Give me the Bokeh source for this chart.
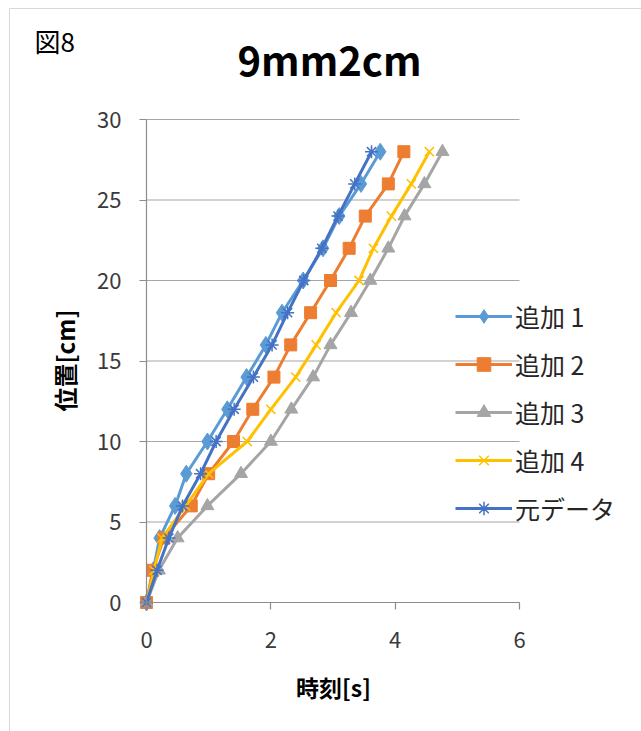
import math
from bokeh.plotting import figure
from bokeh.models import Range1d, FixedTicker, Label, Span, ColumnDataSource
from bokeh.embed import file_html
from bokeh.resources import INLINE

# ---- data ----
position = [0, 2, 4, 6, 8, 10, 12, 14, 16, 18, 20, 22, 24, 26, 28]
t_add1 = [0, 0.11, 0.21, 0.46, 0.64, 0.98, 1.30, 1.61, 1.92, 2.18, 2.52, 2.84, 3.10, 3.45, 3.76]
t_add2 = [0, 0.10, 0.28, 0.72, 1.00, 1.40, 1.71, 2.05, 2.32, 2.64, 2.96, 3.26, 3.52, 3.89, 4.14]
t_add3 = [0, 0.20, 0.50, 0.98, 1.52, 2.00, 2.33, 2.68, 2.96, 3.29, 3.60, 3.89, 4.15, 4.47, 4.76]
t_add4 = [0, 0.12, 0.25, 0.63, 1.00, 1.62, 2.00, 2.40, 2.73, 3.05, 3.42, 3.65, 3.94, 4.26, 4.55]
t_orig = [0, 0.17, 0.36, 0.58, 0.87, 1.12, 1.41, 1.72, 2.02, 2.27, 2.53, 2.82, 3.08, 3.35, 3.62]
series_names = ["追加 1", "追加 2", "追加 3", "追加 4", "元データ"]
x_ticks = [0, 2, 4, 6]
y_ticks = [0, 5, 10, 15, 20, 25, 30]

X_MIN, X_MAX = 0, 6
Y_MIN, Y_MAX = 0, 30

# ---- layout (pixels) ----
W, H = 641, 731
LEFT, TOP = 9, 8
PL, PR, PT, PB = 146, 519, 119, 602
sx = (PR - PL) / (X_MAX - X_MIN)
sy = (PB - PT) / (Y_MAX - Y_MIN)
x_start = X_MIN - (PL - LEFT) / sx
x_end = X_MAX + (W - PR) / sx
y_end = Y_MAX + (PT - TOP) / sy
y_start = Y_MIN - (H - PB) / sy

def dx(px):
    return X_MIN + (px - PL) / sx

def dy(py):
    return Y_MIN + (PB - py) / sy

FONT = "Noto Sans CJK JP"
GRID = "#a6a6a6"
AXIS = "#8c8c8c"
TXT = "#3a3a3a"

p = figure(width=W, height=H,
           x_range=Range1d(x_start, x_end), y_range=Range1d(y_start, y_end),
           min_border_left=LEFT, min_border_top=TOP, min_border_right=0, min_border_bottom=0,
           output_backend="svg", toolbar_location=None,
           outline_line_color=None, background_fill_color="white", border_fill_color="white")
p.title.visible = False
p.xgrid.visible = False
p.ygrid.visible = False

# gridlines
gsrc = ColumnDataSource(dict(y=y_ticks[1:]))
p.segment(x0=X_MIN, x1=X_MAX, y0="y", y1="y", source=gsrc, line_color=GRID, line_width=1.2)

# axes
xa = p.xaxis[0]
xa.fixed_location = Y_MIN
xa.bounds = (X_MIN, X_MAX)
xa.ticker = FixedTicker(ticks=x_ticks)
ya = p.yaxis[0]
ya.fixed_location = X_MIN
ya.bounds = (Y_MIN, Y_MAX)
ya.ticker = FixedTicker(ticks=y_ticks)
for ax in (xa, ya):
    ax.axis_line_color = AXIS
    ax.axis_line_width = 1.2
    ax.major_tick_line_color = AXIS
    ax.major_tick_line_width = 1.2
    ax.major_tick_out = 7
    ax.major_tick_in = 0
    ax.minor_tick_line_color = None
    ax.major_label_text_font = FONT
    ax.major_label_text_font_size = "22px"
    ax.major_label_text_color = TXT
xa.major_label_standoff = 22
ya.major_label_standoff = 18

# series
styles = [
    (t_add1, "#5B9BD5", "diamond", 17),
    (t_add2, "#ED7D31", "square", 12),
    (t_add3, "#A5A5A5", "triangle", 13),
    (t_add4, "#FFC000", "x", 13),
    (t_orig, "#4472C4", "asterisk", 13),
]
for (t, c, m, s), name in zip(styles, series_names):
    p.line(t, position, line_color=c, line_width=3, legend_label=name)
    if m in ("x", "asterisk"):
        p.scatter(t, position, marker=m, size=s, line_color=c, line_width=1.5, legend_label=name)
    else:
        p.scatter(t, position, marker=m, size=s, fill_color=c, line_color=c, legend_label=name)

lg = p.legend[0]
lg.location = (455 - LEFT, H - 526)
lg.background_fill_alpha = 0
lg.border_line_color = None
lg.padding = 0
lg.margin = 0
lg.spacing = 12
lg.glyph_width = 57
lg.glyph_height = 34
lg.label_height = 34
lg.label_standoff = 3
lg.label_text_font = FONT
lg.label_text_font_size = "25px"
lg.label_text_color = "#262626"

# texts
p.add_layout(Label(x=dx(329), y=dy(58), text="9mm2cm", text_font=FONT, text_font_style="bold",
                   text_font_size="40px", text_align="center", text_baseline="middle", text_color="#000000"))
p.add_layout(Label(x=dx(34), y=dy(40), text="図8", text_font=FONT,
                   text_font_size="26px", text_align="left", text_baseline="middle", text_color="#000000"))
p.add_layout(Label(x=dx(333), y=dy(686), text="時刻[s]", text_font=FONT, text_font_style="bold",
                   text_font_size="23px", text_align="center", text_baseline="middle", text_color="#000000"))
p.add_layout(Label(x=dx(64), y=dy(360), text="位置[cm]", text_font=FONT, text_font_style="bold",
                   text_font_size="24px", text_align="center", text_baseline="middle", angle=math.pi / 2,
                   text_color="#000000"))

# outer chart border (left and top edges)
p.add_layout(Span(location=x_start, dimension="height", line_color="#b0b0b0", line_width=1))
p.add_layout(Span(location=y_end, dimension="width", line_color="#b0b0b0", line_width=1))

open("out.html", "w").write(file_html(p, INLINE))
